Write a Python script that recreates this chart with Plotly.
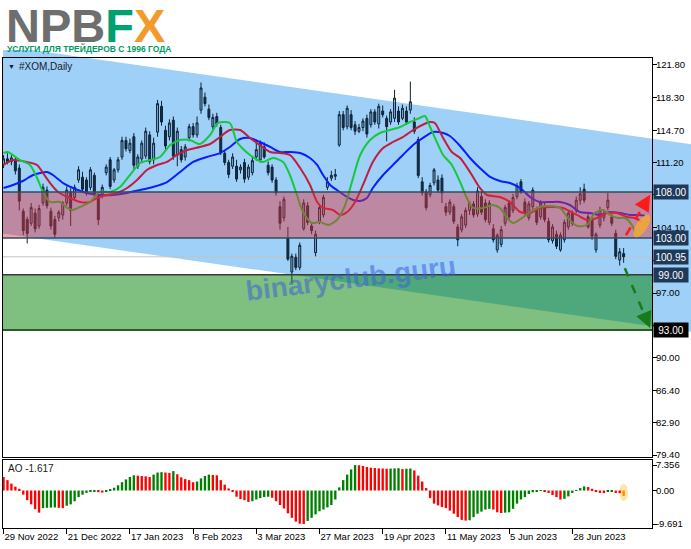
import math
import plotly.graph_objects as go

# ---------------- data ----------------
tick_bars = [0, 16, 32, 48, 64, 80, 96, 112, 128, 144]
tick_labels = ["29 Nov 2022", "21 Dec 2022", "17 Jan 2023", "8 Feb 2023", "3 Mar 2023",
               "27 Mar 2023", "19 Apr 2023", "11 May 2023", "5 Jun 2023", "28 Jun 2023"]

opens = [111.0,111.6,111.3,111.5,110.6,105.9,105.0,104.6,105.7,104.3,
         106.8,108.2,105.9,105.0,105.2,105.5,106.8,108.0,107.4,109.3,
         109.6,109.3,108.5,109.8,107.5,107.7,110.1,111.5,109.3,110.4,
         111.8,113.6,112.5,114.0,110.8,111.6,111.9,114.2,111.5,114.5,
         117.3,114.7,114.0,115.8,112.0,112.6,111.8,113.9,115.1,114.2,
         116.9,118.3,117.0,115.1,116.2,115.0,112.2,111.2,110.8,110.8,
         110.4,111.2,109.6,110.1,111.8,111.5,112.9,110.9,110.7,109.3,
         106.4,105.2,103.0,99.3,100.9,99.8,104.0,106.5,104.3,101.4,
         104.8,105.5,108.5,109.5,109.7,113.1,116.4,115.1,116.4,115.3,
         114.6,115.0,116.0,115.3,116.7,115.4,116.8,116.0,115.6,116.0,
         116.8,116.0,116.8,116.9,115.6,113.7,109.1,108.0,107.7,109.0,
         109.3,109.5,106.4,105.8,106.4,104.2,103.9,104.4,106.0,106.7,
         105.6,107.5,106.8,104.7,104.0,101.7,102.3,104.6,106.8,106.0,
         107.5,109.1,106.9,105.2,106.4,106.0,105.3,106.4,104.8,102.7,
         103.4,101.7,102.8,104.2,105.7,106.0,107.1,108.3,105.3,105.0,
         101.7,104.4,105.2,106.3,105.3,103.5,100.6,101.3]
highs = [112.0,112.2,112.0,111.8,111.0,106.2,105.3,106.8,106.2,106.6,
         108.9,108.6,106.3,105.4,106.0,107.0,108.6,108.4,108.8,110.8,
         110.2,109.6,110.7,110.1,107.8,108.8,111.0,111.8,110.6,111.8,
         114.0,114.0,113.8,114.4,112.1,113.6,115.0,114.6,113.9,118.0,
         117.9,115.2,115.9,116.2,115.0,113.0,113.2,115.4,115.5,116.2,
         119.9,118.8,117.5,116.5,116.6,115.3,112.5,111.5,112.2,111.5,
         111.0,111.6,111.0,111.8,113.7,113.6,113.4,111.3,111.0,109.6,
         107.0,107.5,104.2,101.3,101.3,102.5,107.2,106.9,104.6,103.8,
         106.6,107.7,109.6,110.3,110.5,116.8,116.8,117.4,116.9,115.7,
         115.4,116.0,116.4,117.0,117.0,117.6,117.4,116.3,117.0,119.1,
         117.3,117.5,117.3,120.0,116.1,114.0,109.6,108.3,109.0,110.6,
         109.8,109.9,106.8,107.2,106.7,104.5,105.6,106.3,107.0,107.0,
         108.5,108.0,107.2,107.1,104.5,103.5,104.3,106.6,107.1,107.8,
         109.0,109.4,107.3,107.0,108.5,106.4,107.1,106.8,105.2,104.5,
         103.8,103.6,105.0,106.0,106.0,107.5,108.5,108.9,105.8,105.4,
         103.6,106.4,106.1,107.9,105.8,103.9,101.9,101.9]
lows = [110.6,111.0,110.9,109.9,106.0,103.3,102.4,104.3,103.6,104.0,
        106.5,106.2,103.9,103.0,104.8,105.0,106.5,104.3,107.0,109.0,
        108.0,107.6,108.2,107.4,104.4,107.3,109.8,108.3,109.0,110.1,
        111.5,112.4,112.2,110.5,110.5,111.3,111.6,111.0,111.0,114.0,
        115.2,112.6,113.6,111.5,110.8,111.2,111.4,113.5,113.9,113.9,
        116.5,117.3,115.8,114.8,115.1,112.0,110.9,109.5,110.5,109.1,
        110.0,109.0,109.3,109.8,111.4,111.2,111.6,109.8,109.0,107.6,
        103.9,104.8,100.5,98.1,99.5,99.5,103.8,104.4,103.4,101.0,
        104.5,105.2,108.2,109.2,109.3,112.9,114.7,114.8,114.7,114.2,
        114.4,114.6,113.9,115.0,115.3,114.9,116.1,113.5,115.3,115.6,
        115.3,115.8,115.3,116.5,114.3,109.5,107.6,106.0,107.4,108.7,
        107.9,106.8,105.4,105.5,104.5,102.1,103.6,104.1,105.5,105.2,
        105.3,105.5,104.7,104.4,102.5,101.4,102.0,104.3,105.0,105.7,
        107.2,107.8,105.5,104.9,106.1,104.4,105.0,104.7,102.5,102.4,
        101.8,101.5,102.5,103.9,104.3,105.7,106.6,106.8,104.0,102.8,
        101.4,104.1,104.8,106.0,104.3,100.7,100.0,100.3]
closes = [111.6,111.3,111.7,110.3,107.0,103.8,103.5,106.3,104.0,106.2,
          108.5,106.5,104.3,103.4,105.8,106.8,108.2,106.0,108.5,110.4,
          108.3,107.9,110.4,107.7,105.0,108.5,110.7,108.6,110.4,111.5,
          113.6,112.7,113.3,110.9,111.8,113.3,114.6,111.3,113.3,117.6,
          115.6,113.0,115.5,111.9,114.6,111.5,112.9,115.1,114.2,115.5,
          119.3,117.6,116.1,116.1,115.4,112.3,111.2,109.9,111.8,109.4,
          110.7,109.4,110.7,111.4,112.6,113.3,111.8,110.1,109.3,107.9,
          104.6,107.2,100.7,101.0,99.8,102.2,106.8,104.7,103.8,103.4,
          106.3,107.4,109.1,109.8,109.9,116.4,115.0,117.1,115.0,114.6,
          115.0,115.7,114.3,116.7,115.6,117.3,116.4,115.1,116.7,118.2,
          115.6,117.1,115.6,117.8,114.6,109.8,107.9,106.3,108.7,110.4,
          108.2,107.9,105.8,106.9,104.8,102.8,105.3,106.0,106.8,105.5,
          108.1,105.8,105.0,106.8,102.8,103.3,103.9,106.3,105.3,107.4,
          108.7,108.0,105.8,106.7,108.2,104.7,106.8,105.0,102.8,104.2,
          102.1,103.3,104.7,105.7,104.6,107.1,107.8,107.1,104.2,103.2,
          103.4,106.0,105.6,107.1,104.6,101.0,101.5,100.95]

ao_values = [3.9,3.0,2.0,1.1,0.5,-1.2,-2.8,-4.0,-5.4,-6.4,
             -5.1,-5.0,-4.95,-4.9,-5.0,-5.1,-4.4,-4.0,-3.1,-1.9,
             -1.2,-0.7,-0.3,-0.15,-0.5,-0.6,-0.2,0.2,0.8,1.5,
             2.4,3.2,3.9,4.4,4.3,4.2,4.1,3.9,4.6,5.2,
             5.3,5.2,5.1,5.6,4.7,3.8,3.3,3.0,2.4,2.6,
             3.5,4.2,4.6,4.5,4.4,3.0,1.7,0.6,-0.4,-1.8,
             -2.5,-2.8,-3.3,-3.1,-2.6,-2.2,-1.9,-1.8,-2.1,-3.1,
             -4.2,-5.2,-6.6,-7.9,-9.0,-9.6,-9.691,-8.8,-7.9,-6.9,
             -6.0,-5.5,-4.9,-4.2,-2.6,0.9,3.0,4.6,6.1,7.356,
             7.3,7.1,6.8,6.6,6.5,6.4,6.35,6.3,6.35,6.4,
             6.45,6.2,6.3,6.35,5.8,4.3,2.6,0.7,-2.2,-3.8,
             -4.3,-4.8,-5.1,-5.8,-6.7,-7.7,-8.5,-8.7,-8.6,-7.7,
             -6.7,-6.1,-5.5,-5.3,-5.5,-6.3,-6.5,-6.4,-6.3,-5.3,
             -3.8,-2.6,-1.9,-1.0,-0.5,-0.3,-0.1,-0.3,-0.7,-1.3,
             -1.9,-2.6,-2.4,-1.7,-0.7,0.1,0.7,1.2,1.0,0.5,
             -0.3,-0.7,-0.75,-0.4,-0.35,-0.7,-0.75,-1.617]

# Alligator lines (bar index, price)
jaw_x = [0,2.4,4.9,7.5,11.0,12.5,15.1,17.6,21.1,24.4,27.7,31.3,34.6,37.8,41.4,44.7,48.0,51.5,54.8,57.3,
         59.9,62.4,64.9,67.5,70.0,72.5,75.1,77.6,79.4,80.9,82.7,84.4,87.0,88.5,90.3,92.0,93.5,96.1,98.6,101.1,
         103.7,106.2,108.7,111.3,113.0,115.6,118.1,120.6,123.2,125.7,128.2,130.8,133.3,135.8,138.4,140.9,143.4,
         145.9,148.5,151.0,153.5,156.1,158.6,161.1,162.4]
jaw_y = [108.43,108.76,109.19,109.84,110.17,109.84,108.97,108.43,107.89,107.67,107.67,107.89,108.21,108.54,
         109.08,110.17,111.26,111.8,112.23,112.89,113.76,113.87,113.43,112.89,112.34,112.34,112.23,111.69,110.93,
         109.84,108.76,108.21,107.45,107.13,107.02,107.34,108.43,109.84,110.93,112.02,113.1,113.87,114.52,114.41,
         114.08,113.0,111.69,110.6,109.63,109.19,108.97,108.43,107.45,106.91,106.91,106.91,106.58,105.82,105.71,
         105.5,105.82,105.71,105.5,105.5,105.39]
teeth_x = [0,2.4,5.9,8.5,10.0,11.8,13.8,16.8,19.4,21.9,23.7,26.2,28.7,31.3,33.8,36.3,38.9,41.4,43.9,46.5,
           49.7,52.3,54.8,57.3,59.9,62.4,64.9,67.5,70.0,72.5,75.1,77.6,79.4,80.9,83.4,85.2,87.0,89.0,91.0,93.5,
           96.1,98.6,101.1,103.7,106.0,108.0,109.2,111.3,113.5,115.6,118.1,120.6,122.4,125.7,128.2,130.8,133.3,
           135.8,139.1,141.6,145.2,147.7,150.2,152.8,155.3,157.8,159.9,161.6]
teeth_y = [110.93,111.47,111.26,110.93,110.06,108.97,108.0,107.34,106.91,106.91,107.34,107.67,107.89,108.43,
           109.3,110.39,110.93,111.26,112.02,112.56,112.89,113.21,113.97,114.73,114.73,113.87,113.1,112.34,112.23,
           112.02,110.6,108.76,106.91,106.26,106.04,105.5,105.82,106.91,108.76,111.26,112.78,113.43,113.97,114.73,
           115.28,115.6,115.5,113.87,112.34,111.69,110.17,108.43,107.67,107.45,106.91,105.82,105.71,106.26,106.37,
           106.26,105.5,104.95,105.17,105.71,105.71,105.28,105.17,104.73]
lips_x = [0,1.1,4.2,6.7,8.5,10.0,11.8,14.3,16.1,17.6,19.4,21.9,24.4,27.0,29.5,32.0,34.6,37.1,39.6,42.2,
          44.7,47.2,49.7,52.3,54.3,57.3,59.1,62.4,65.7,68.2,70.8,72.5,74.3,75.8,78.1,80.1,82.2,84.4,86.5,88.2,
          90.3,92.8,95.3,97.8,100.4,102.9,105.4,106.7,108.0,109.7,111.3,113.5,115.6,117.3,118.9,121.4,123.7,
          125.7,127.5,129.0,131.3,133.3,135.8,138.4,140.9,142.9,145.2,147.7,149.7,151.8,153.5,155.5,157.3,159.1,160.0]
lips_y = [112.23,112.34,111.47,110.93,109.52,108.0,106.91,106.91,106.26,106.04,106.37,106.91,108.0,108.0,108.54,
          109.84,111.15,111.47,111.8,113.1,113.65,113.65,113.21,114.19,115.5,115.5,113.43,112.02,111.26,111.69,
          111.26,109.84,107.67,105.82,104.63,104.73,104.41,104.95,106.58,109.08,112.02,113.65,114.41,114.73,115.06,
          115.6,116.04,116.26,115.06,113.43,112.02,110.93,109.08,107.34,106.26,106.26,106.58,106.26,105.17,104.63,
          105.17,105.82,106.37,106.47,106.26,105.17,104.3,104.41,105.71,106.04,105.5,105.17,105.17,104.41,103.5]

price_ticks = [121.80, 118.30, 114.70, 111.20, 107.70, 104.10, 100.60, 97.00, 93.50, 90.00, 86.40, 82.90, 79.40]
hidden_ticks = [107.70, 100.60]
ao_ticks = [7.356, 0.0, -9.691]
ao_tick_text = ["7.356", "0.00", "-9.691"]

resistance_zone = [103.0, 108.0]
support_zone = [93.0, 99.0]
last_price = 100.95
level_labels = [108.00, 103.00, 100.95, 99.00, 93.00]
channel_x = [0, 174]
channel_top = [123.87, 113.19]
channel_bot = [103.48, 92.80]
up_arrow = [(157.6, 103.3), (163.7, 107.7)]
down_arrow = [(157.3, 99.7), (163.7, 93.2)]
focus_center = (161.6, 104.3)

# ---------------- geometry ----------------
W, H = 691, 549
ML, MR, MT, MB = 3, 0, 58, 21
PW, PH = W - ML - MR, H - MT - MB


def PX(px):
    return (px - ML) / PW


def PY(py):
    return (H - MB - py) / PH


X_DOM = [0, PX(652)]
Y_DOM = [PY(457), 1]
Y2_DOM = [0, PY(460)]
XR = [-0.13, 164.18]
YR = [79.19, 122.56]
Y2R = [-10.84, 8.82]
FONT = "Liberation Sans, Arial, sans-serif"
bars = list(range(len(opens)))


def to_paper(i, p):
    return (X_DOM[0] + (i - XR[0]) / (XR[1] - XR[0]) * (X_DOM[1] - X_DOM[0]),
            Y_DOM[0] + (p - YR[0]) / (YR[1] - YR[0]) * (Y_DOM[1] - Y_DOM[0]))


def line_at(xs, ys, i):
    return ys[0] + (ys[1] - ys[0]) * (i - xs[0]) / (xs[1] - xs[0])


fig = go.Figure()

# candles
fig.add_trace(go.Candlestick(
    x=bars, open=opens, high=highs, low=lows, close=closes,
    increasing=dict(line=dict(color="#0d2236", width=1), fillcolor="rgba(60,110,160,0.35)"),
    decreasing=dict(line=dict(color="#0d2236", width=1), fillcolor="#15304c"),
    whiskerwidth=0, showlegend=False, hoverinfo="skip", xaxis="x", yaxis="y"))

for xs, ys, col in [(jaw_x, jaw_y, "#0a1eff"), (teeth_x, teeth_y, "#c01e3c"), (lips_x, lips_y, "#16c83a")]:
    fig.add_trace(go.Scatter(x=xs, y=ys, mode="lines", xaxis="x", yaxis="y",
                             line=dict(color=col, width=2, shape="spline", smoothing=0.7),
                             showlegend=False, hoverinfo="skip"))

ao_colors = []
for k, v in enumerate(ao_values):
    if k == len(ao_values) - 1:
        ao_colors.append("#ff8c00")
    elif k == 0 or v < ao_values[k - 1]:
        ao_colors.append("#ff0000")
    else:
        ao_colors.append("#008000")
fig.add_trace(go.Bar(x=bars, y=ao_values, marker=dict(color=ao_colors, line=dict(width=0)),
                     width=0.6, xaxis="x2", yaxis="y2", showlegend=False, hoverinfo="skip"))

shapes = []
# blue channel (extends across price scale)
i_left = XR[0]
i_right = XR[0] + (XR[1] - XR[0]) / (X_DOM[1] - X_DOM[0])
t0 = to_paper(i_left, line_at(channel_x, channel_top, i_left))[1]
t1 = to_paper(i_right, line_at(channel_x, channel_top, i_right))[1]
b0 = to_paper(i_left, line_at(channel_x, channel_bot, i_left))[1]
b1 = to_paper(i_right, line_at(channel_x, channel_bot, i_right))[1]
clip = PY(50)
if t0 > clip:
    xc = (clip - t0) / (t1 - t0)
    path = f"M 0 {clip} L {xc} {clip} L 1 {t1} L 1 {b1} L 0 {b0} Z"
else:
    path = f"M 0 {t0} L 1 {t1} L 1 {b1} L 0 {b0} Z"
shapes.append(dict(type="path", path=path, xref="paper", yref="paper", layer="below",
                   fillcolor="rgb(158,208,248)", line=dict(width=0)))

# zones (over the candles)
shapes.append(dict(type="rect", xref="x", yref="y", x0=XR[0], x1=XR[1], y0=resistance_zone[0],
                   y1=resistance_zone[1], fillcolor="rgba(227,48,57,0.45)", line=dict(width=0), layer="above"))
shapes.append(dict(type="rect", xref="x", yref="y", x0=XR[0], x1=XR[1], y0=support_zone[0],
                   y1=support_zone[1], fillcolor="rgba(0,128,0,0.5)", line=dict(width=0), layer="above"))
# level lines
for lvl, col, wd in [(resistance_zone[1], "#2a4f60", 1.5), (resistance_zone[0], "#2a4f60", 1.5),
                     (support_zone[1], "#3a3a3a", 1.5), (support_zone[0], "#2d5a2d", 2)]:
    shapes.append(dict(type="line", xref="x", yref="y", x0=XR[0], x1=XR[1], y0=lvl, y1=lvl,
                       line=dict(color=col, width=wd), layer="above"))
shapes.append(dict(type="line", xref="x", yref="y", x0=XR[0], x1=XR[1], y0=last_price, y1=last_price,
                   line=dict(color="#c4c4c4", width=1), layer="below"))

# orange focus ellipse
sx = PW * (X_DOM[1] - X_DOM[0]) / (XR[1] - XR[0])
sy = PH * (Y_DOM[1] - Y_DOM[0]) / (YR[1] - YR[0])
ang = math.radians(57)
ux, uy = math.cos(ang), math.sin(ang)
vx, vy = -uy, ux
pts = []
for k in range(0, 361, 15):
    t = math.radians(k)
    dx = 13 * math.cos(t) * ux + 5.5 * math.sin(t) * vx
    dy = 13 * math.cos(t) * uy + 5.5 * math.sin(t) * vy
    pts.append((focus_center[0] + dx / sx, focus_center[1] + dy / sy))
epath = "M " + " L ".join(f"{a:.3f} {b:.3f}" for a, b in pts) + " Z"
shapes.append(dict(type="path", path=epath, xref="x", yref="y", fillcolor="rgba(245,168,50,0.85)",
                   line=dict(width=0), layer="above"))

# dashed arrow shafts
for (p0, p1), col in [((up_arrow[0], up_arrow[1]), "#ff1a1a"), ((down_arrow[0], down_arrow[1]), "#1a7a1a")]:
    fx = p0[0] + (p1[0] - p0[0]) * 0.85
    fy = p0[1] + (p1[1] - p0[1]) * 0.85
    shapes.append(dict(type="line", xref="x", yref="y", x0=p0[0], y0=p0[1], x1=fx, y1=fy,
                       line=dict(color=col, width=2.5, dash="dash"), layer="above"))

# AO highlight
shapes.append(dict(type="circle", xref="x2", yref="y2", x0=155.9, x1=158.1, y0=-3.0, y1=1.9,
                   fillcolor="rgba(255,215,120,0.65)", line=dict(width=0), layer="below"))

annotations = []
for (p0, p1), col in [((up_arrow[0], up_arrow[1]), "#ff1a1a"), ((down_arrow[0], down_arrow[1]), "#1a7a1a")]:
    annotations.append(dict(x=p1[0], y=p1[1], xref="x", yref="y",
                            ax=p0[0] + (p1[0] - p0[0]) * 0.8, ay=p0[1] + (p1[1] - p0[1]) * 0.8,
                            axref="x", ayref="y", showarrow=True, arrowhead=2, arrowsize=1.3,
                            arrowwidth=2.5, arrowcolor=col, text=""))

# level price boxes
for lvl in level_labels:
    bg = "#000000" if lvl == support_zone[0] else "#1e3a58"
    annotations.append(dict(x=PX(653), y=lvl, xref="paper", yref="y", xanchor="left", yanchor="middle",
                            text=f"{lvl:.2f}", showarrow=False, bgcolor=bg, width=32, height=12,
                            borderpad=1, font=dict(family=FONT, size=10, color="white")))

# chart labels
annotations.append(dict(x=PX(6), y=PY(67), xref="paper", yref="paper", xanchor="left", yanchor="middle",
                        text="▼", showarrow=False, font=dict(family=FONT, size=7, color="#1a1a2a")))
annotations.append(dict(x=PX(17), y=PY(67), xref="paper", yref="paper", xanchor="left", yanchor="middle",
                        text="#XOM,Daily", showarrow=False, font=dict(family=FONT, size=10, color="#1a1a2a")))
annotations.append(dict(x=PX(6), y=PY(468), xref="paper", yref="paper", xanchor="left", yanchor="middle",
                        text=f"AO {ao_values[-1]:.3f}", showarrow=False,
                        font=dict(family=FONT, size=10, color="#1a1a1a")))

# watermark
annotations.append(dict(x=88, y=98.6, xref="x", yref="y", text="<b>binaryclub.guru</b>", showarrow=False,
                        textangle=-7, font=dict(family=FONT, size=28, color="rgba(60,95,215,0.55)")))

# logo
logo_text = ('<b><span style="color:#6e6e6e">NPB</span><span style="color:#00a070">F</span>'
             '<span style="color:#f39a2c">X</span></b>')
annotations.append(dict(x=PX(4), y=PY(25), xref="paper", yref="paper", xanchor="left", yanchor="middle",
                        text=logo_text, showarrow=False,
                        font=dict(family=FONT, size=47, color="#6e6e6e")))
annotations.append(dict(x=PX(5), y=PY(48), xref="paper", yref="paper", xanchor="left", yanchor="middle",
                        text="<b>УСЛУГИ ДЛЯ ТРЕЙДЕРОВ С 1996 ГОДА</b>", showarrow=False,
                        font=dict(family=FONT, size=8.5, color="#009a63")))

axis_common = dict(showgrid=False, zeroline=False, showline=True, mirror=True, linecolor="black",
                   linewidth=1, fixedrange=True, automargin=False)

fig.update_layout(
    width=W, height=H, margin=dict(l=ML, r=MR, t=MT, b=MB, pad=0, autoexpand=False),
    paper_bgcolor="white", plot_bgcolor="rgba(0,0,0,0)", showlegend=False,
    font=dict(family=FONT, size=10, color="black"),
    xaxis=dict(domain=X_DOM, range=XR, anchor="y", showticklabels=False, ticks="",
               rangeslider=dict(visible=False), **axis_common),
    yaxis=dict(domain=Y_DOM, range=YR, anchor="x", side="right", tickvals=price_ticks,
               ticktext=["" if v in hidden_ticks else f"{v:.2f}" for v in price_ticks],
               ticks="outside", ticklen=4, tickcolor="black", ticklabelstandoff=-3,
               tickfont=dict(family=FONT, size=9.5, color="black"), **axis_common),
    xaxis2=dict(domain=X_DOM, range=XR, anchor="y2", tickvals=tick_bars, ticktext=tick_labels,
                ticks="outside", ticklen=5, tickcolor="black", ticklabelposition="outside right",
                tickangle=0, tickfont=dict(family=FONT, size=9.5, color="black"), **axis_common),
    yaxis2=dict(domain=Y2_DOM, range=Y2R, anchor="x2", side="right", tickvals=ao_ticks,
                ticktext=ao_tick_text, ticks="outside", ticklen=4, tickcolor="black", ticklabelstandoff=-3,
                tickfont=dict(family=FONT, size=9.5, color="black"), **axis_common),
    shapes=shapes, annotations=annotations, bargap=0.3,
)

fig.write_html("out.html", config={"displayModeBar": False},
               post_script="document.body.style.margin='0';document.body.style.overflow='hidden';")
